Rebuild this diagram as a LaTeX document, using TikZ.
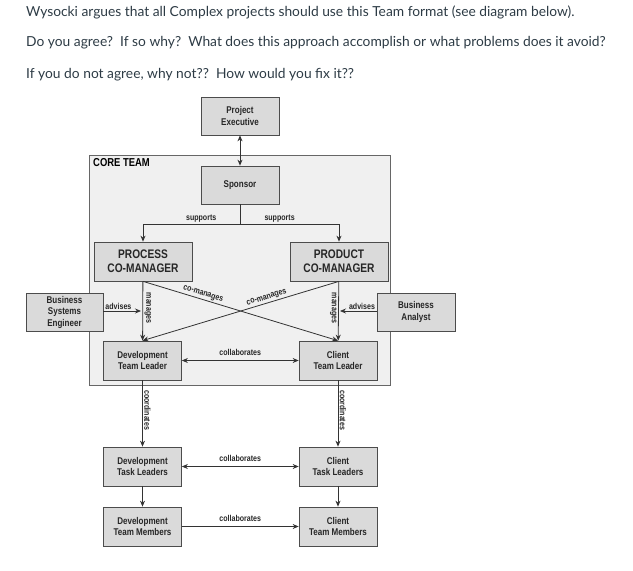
\documentclass[tikz,border=0pt]{standalone}
\usepackage{fontspec}
\setmainfont{Liberation Sans}
\newfontfamily\cond{Liberation Sans}[FakeStretch=0.82]
\newfontfamily\hdr{Lato}
\usetikzlibrary{arrows.meta}
\definecolor{boxg}{RGB}{218,218,218}
\definecolor{coreg}{RGB}{240,240,240}
\definecolor{hdrc}{RGB}{45,59,69}
\begin{document}
\begin{tikzpicture}[x=1pt,y=-1pt,
 box/.style={draw=black!70,fill=boxg,line width=0.7pt,inner sep=0pt,align=center,font=\cond\bfseries\fontsize{9.8}{11.5}\selectfont,text=black!85},
 big/.style={box,font=\cond\bfseries\fontsize{12.4}{14}\selectfont},
 lab/.style={font=\cond\bfseries\fontsize{8.6}{9}\selectfont,text=black!85,inner sep=1.5pt},
 ar/.style={-{Stealth[length=6pt,width=5pt]},line width=0.8pt,black!80},
 dar/.style={{Stealth[length=6pt,width=5pt]}-{Stealth[length=6pt,width=5pt]},line width=0.8pt,black!80},
 ht/.style={anchor=west,font=\hdr\fontsize{13.8}{15}\selectfont,text=hdrc,inner sep=0pt}]
\useasboundingbox (0,0) rectangle (633,571);
\node[ht] (h1) at (26,12) {Wysocki argues that all Complex projects should use this Team format (see diagram below).};
\node[ht] (h2) at (26,43) {Do you agree?\ \ If so why?\ \ What does this approach accomplish or what problems does it avoid?};
\node[ht] (h3) at (26,75) {If you do not agree, why not??\ \ How would you fix it??};
\draw[black!60,fill=coreg,line width=0.7pt] (89.7,155) rectangle (390.7,385);
\node[anchor=north west,font=\cond\bfseries\fontsize{11.5}{12}\selectfont,inner sep=0pt] (ct) at (93,158) {CORE TEAM};
\node[box,minimum width=78pt,minimum height=38pt] (pe) at (240,116) {Project\\Executive};
\node[box,minimum width=78pt,minimum height=38pt] (sp) at (240,185) {Sponsor};
\node[big,minimum width=98pt,minimum height=39pt] (pc) at (143,261.5) {PROCESS\\CO-MANAGER};
\node[big,minimum width=98pt,minimum height=39pt] (pr) at (339,261.5) {PRODUCT\\CO-MANAGER};
\node[box,minimum width=77pt,minimum height=38pt] (bse) at (64.5,312) {Business\\Systems\\Engineer};
\node[box,minimum width=78pt,minimum height=38pt] (ba) at (416,312) {Business\\Analyst};
\node[box,minimum width=78pt,minimum height=39pt] (dtl) at (142.5,360.5) {Development\\Team Leader};
\node[box,minimum width=78pt,minimum height=39pt] (ctl) at (338,360.5) {Client\\Team Leader};
\node[box,minimum width=78pt,minimum height=39pt] (dtk) at (142.5,466.5) {Development\\Task Leaders};
\node[box,minimum width=78pt,minimum height=39pt] (ctk) at (338,466.5) {Client\\Task Leaders};
\node[box,minimum width=78pt,minimum height=39pt] (dtm) at (142.5,526.5) {Development\\Team Members};
\node[box,minimum width=78pt,minimum height=39pt] (ctm) at (338,526.5) {Client\\Team Members};
\draw[dar] (pe) -- (sp);
\coordinate (sj) at (240,224);
\draw[line width=0.8pt,black!80] (sp) -- (sj);
\draw[ar] (sj) -| (pc.north) node[lab,pos=0.2,above] {supports};
\draw[ar] (sj) -| (pr.north) node[lab,pos=0.2,above] {supports};
\draw[ar] (pc) -- node[lab,rotate=-90,anchor=south,pos=0.45] {manages} (dtl);
\draw[ar] (pr) -- node[lab,rotate=-90,anchor=north,pos=0.45] {manages} (ctl);
\draw[ar] (pc.south) -- node[lab,sloped,above,pos=0.3] {co-manages} (ctl.north);
\draw[ar] (pr.south) -- node[lab,sloped,above,pos=0.36] {co-manages} (dtl.north);
\coordinate (a1) at (141,311);
\coordinate (a2) at (340,311);
\draw[ar] (bse.east |- a1) -- node[lab,above,pos=0.4] {advises} (a1);
\draw[ar] (ba.west |- a2) -- node[lab,above,pos=0.4] {advises} (a2);
\draw[dar] (dtl) -- node[lab,above=3pt] {collaborates} (ctl);
\draw[ar] (dtl) -- node[lab,rotate=-90,anchor=south,pos=0.45] {coordinates} (dtk);
\draw[ar] (ctl) -- node[lab,rotate=-90,anchor=south,pos=0.45] {coordinates} (ctk);
\draw[ar] (dtk) -- (dtm);
\draw[ar] (ctk) -- (ctm);
\draw[dar] (dtk) -- node[lab,above=3pt] {collaborates} (ctk);
\draw[ar] (dtm) -- node[lab,above=3pt] {collaborates} (ctm);
\end{tikzpicture}
\end{document}
